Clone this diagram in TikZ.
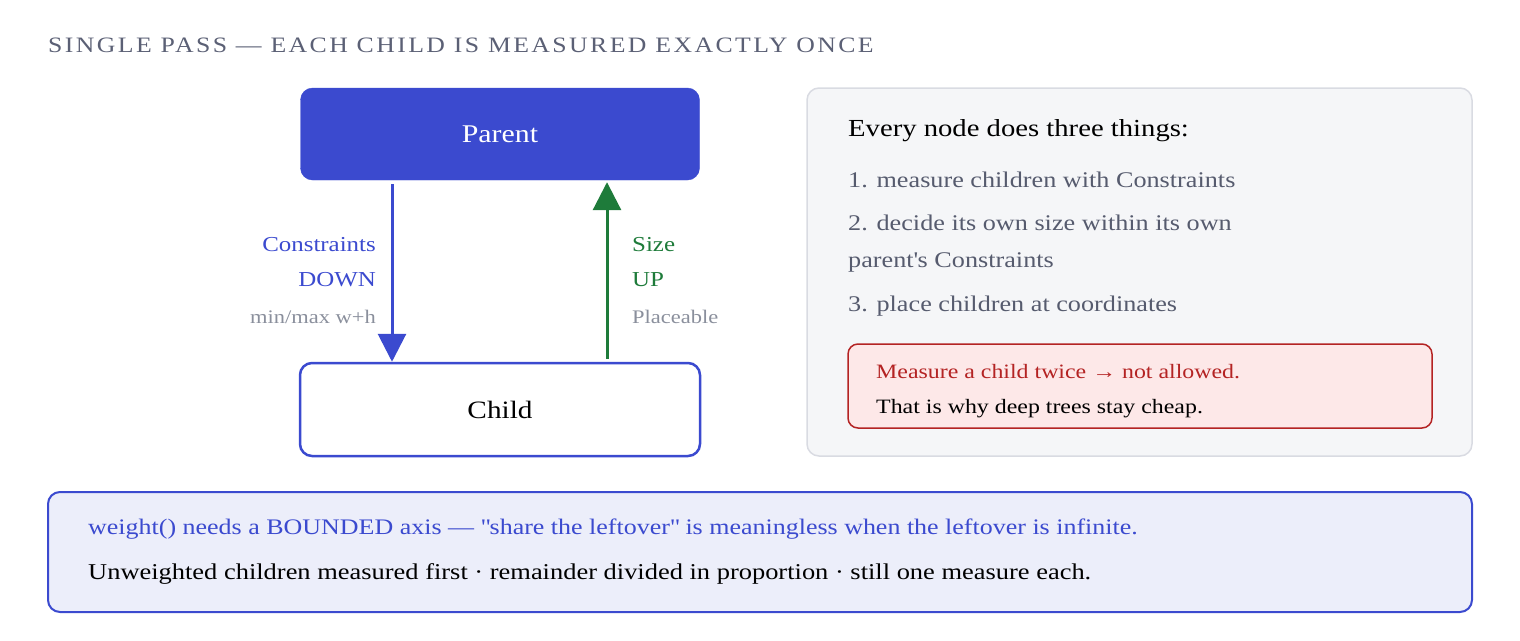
\documentclass[tikz,border=0pt]{standalone}
\usepackage{fontspec}
\setmainfont[FakeStretch=1.17]{Liberation Serif}
\newfontfamily\titlefont[FakeStretch=1.17,LetterSpace=11]{Liberation Serif}
\usetikzlibrary{arrows.meta}

\definecolor{pblue}{HTML}{3B4ACF}
\definecolor{pgreen}{HTML}{1E7B3A}
\definecolor{lgray}{HTML}{8A8F9C}
\definecolor{tgray}{HTML}{5B6075}
\definecolor{igray}{HTML}{565B6E}
\definecolor{panelfill}{HTML}{F5F6F8}
\definecolor{panelline}{HTML}{D9DBE2}
\definecolor{wred}{HTML}{B42323}
\definecolor{wfill}{HTML}{FDE8E8}
\definecolor{notefill}{HTML}{ECEEFA}

\tikzset{
  fsz/.style={font=\fontsize{#1}{#1}\selectfont},
  box/.style={draw, rounded corners=12pt, inner sep=0pt},
  lbl/.style={inner sep=0pt, fsz=21.3},
  flow/.style={line width=3pt, -{Triangle[length=28pt,width=28pt]}},
}

\begin{document}
\begin{tikzpicture}[x=1pt, y=-1pt]
\useasboundingbox (0,0) rectangle (1520,640);

\node[anchor=base west, inner sep=0pt, text=tgray, font=\titlefont\fontsize{22}{22}\selectfont]
  (title) at (48,52) {SINGLE PASS — EACH CHILD IS MEASURED EXACTLY ONCE};

% the two boxes
\node[box, draw=pblue, fill=pblue, text=white, fsz=25.5,
  minimum width=399pt, minimum height=92pt] (parent) at (500,134) {Parent};
\node[box, draw=pblue, line width=2.5pt, fill=white, fsz=25,
  minimum width=400pt, minimum height=93pt] (child) at (500,409.5) {Child};

\draw[flow, pblue] ([xshift=-108pt,yshift=-4pt]parent.south) -- ([xshift=-108pt]child.north);
\draw[flow, pgreen] ([xshift=107pt,yshift=3pt]child.north) -- ([xshift=107pt,yshift=-2pt]parent.south);

\node[lbl, anchor=base east, text=pblue] (cons) at (376,251) {Constraints};
\node[lbl, anchor=base east, text=pblue] (down) at (376,286) {DOWN};
\node[lbl, anchor=base east, text=lgray, fsz=19.2] (minmax) at (376,323) {min/max w+h};

\node[lbl, anchor=base west, text=pgreen] (size) at (632,251) {Size};
\node[lbl, anchor=base west, text=pgreen] (up) at (632,286) {UP};
\node[lbl, anchor=base west, text=lgray, fsz=19.2] (place) at (632,323) {Placeable};

% right panel
\node[box, draw=panelline, line width=1.5pt, fill=panelfill,
  minimum width=665pt, minimum height=368pt] (panel) at (1139.5,272) {};
\node[lbl, anchor=base west, fsz=24.5] (head) at (848,136) {Every node does three things:};
\node[lbl, anchor=base west, text=igray, fsz=22.4] (one) at (848,187) {1. measure children with Constraints};
\node[lbl, anchor=base west, text=igray, fsz=22.4] (two) at (848,230) {2. decide its own size within its own};
\node[lbl, anchor=base west, text=igray, fsz=22.4] (twob) at (848,267) {parent\textquotesingle s Constraints};
\node[lbl, anchor=base west, text=igray, fsz=22.4] (three) at (848,311) {3. place children at coordinates};

\node[box, draw=wred, line width=1.5pt, fill=wfill, rounded corners=10pt,
  minimum width=584pt, minimum height=84pt] (warn) at (1140,386) {};
\node[lbl, anchor=base west, text=wred, fsz=20.4] (twice) at (876,378) {Measure a child twice → not allowed.};
\node[lbl, anchor=base west, fsz=20.4] (cheap) at (876,413) {That is why deep trees stay cheap.};

% bottom note
\node[box, draw=pblue, line width=2pt, fill=notefill,
  minimum width=1424pt, minimum height=120pt] (note) at (760,552) {};
\node[lbl, anchor=base west, text=pblue, fsz=22.2] (weight) at (88,534)
  {weight() needs a BOUNDED axis — \textquotedbl share the leftover\textquotedbl{} is meaningless when the leftover is infinite.};
\node[lbl, anchor=base west, fsz=22.6] (unw) at (88,579)
  {Unweighted children measured first · remainder divided in proportion · still one measure each.};

\end{tikzpicture}
\end{document}
